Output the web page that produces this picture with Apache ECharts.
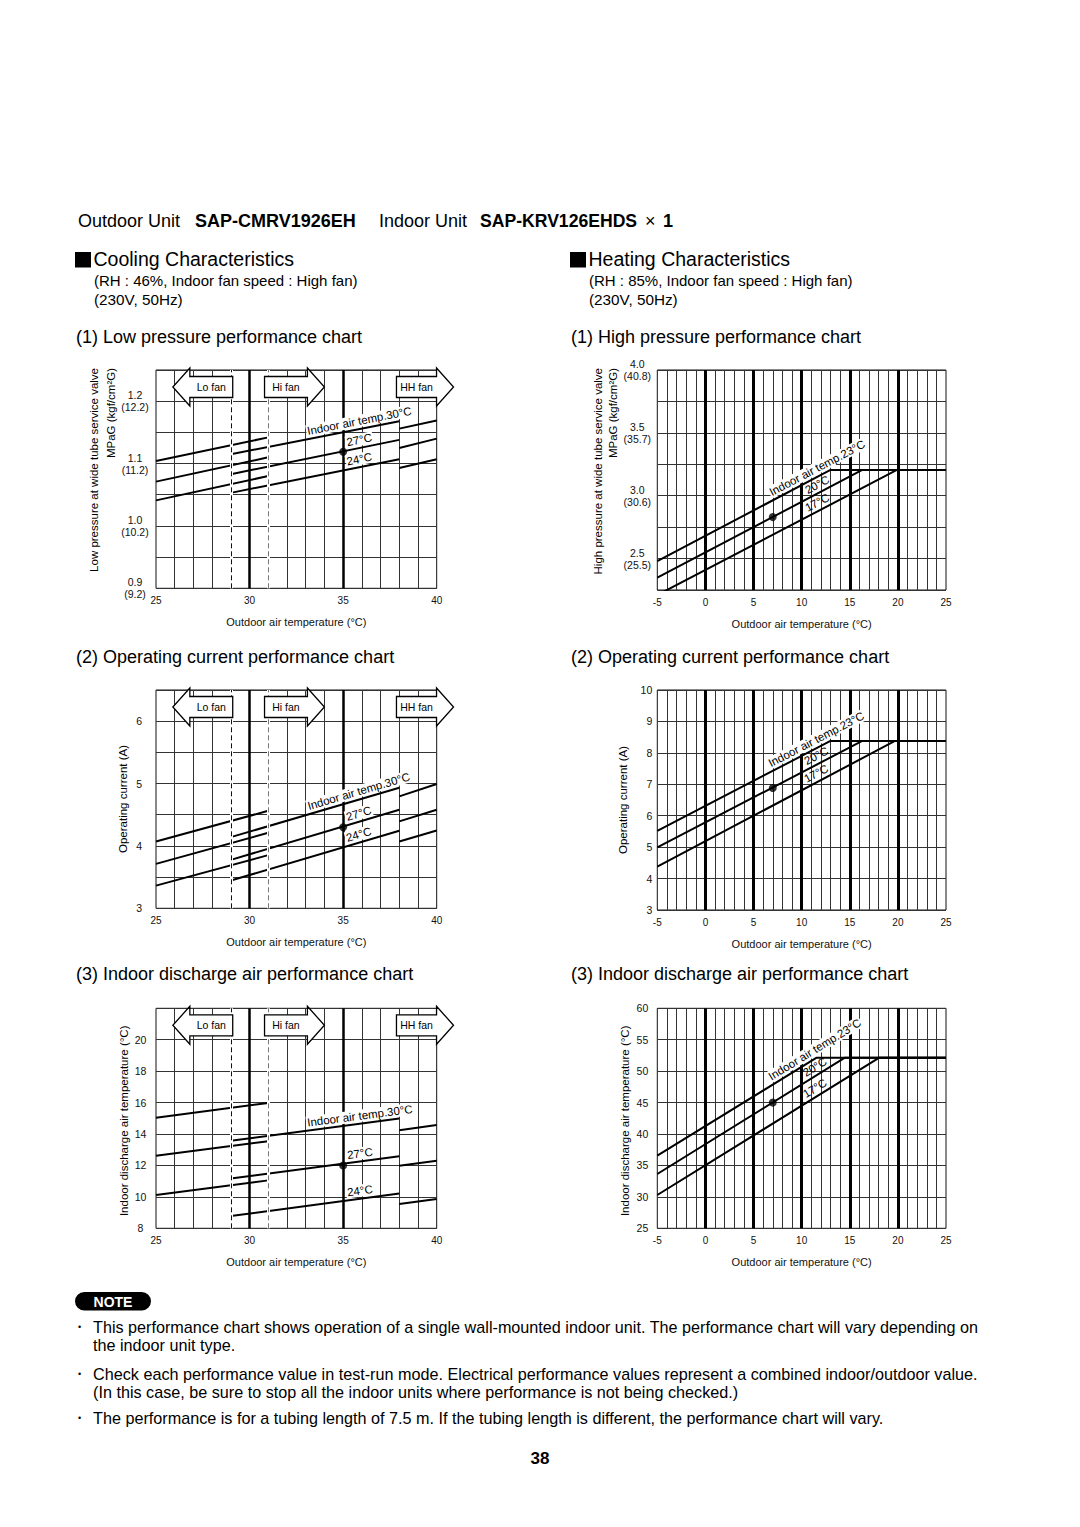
<!DOCTYPE html>
<html><head><meta charset="utf-8">
<script src="https://cdn.jsdelivr.net/npm/echarts@6/dist/echarts.min.js"></script>
<style>html,body{margin:0;padding:0;background:#fff}#c{width:1080px;height:1527px}</style>
</head><body><div id="c"></div>
<script>
// ================= DATA =================
// Cooling: each temperature has 3 segments (Lo fan, Hi fan, HH fan): start/end values
const coolSegX = [[25, 31], [29, 38], [38, 40]];
const coolTempNames = ['Indoor air temp.30°C', '27°C', '24°C'];
const lowP30 = [1.104, 1.142, 1.115, 1.168, 1.156, 1.169];
const lowP27 = [1.071, 1.110, 1.083, 1.138, 1.125, 1.140];
const lowP24 = [1.041, 1.080, 1.053, 1.107, 1.093, 1.107];
const lowPPoint = [35, 1.119];
const curC30 = [4.071, 4.564, 4.141, 4.934, 4.794, 4.993];
const curC27 = [3.712, 4.211, 3.777, 4.580, 4.393, 4.580];
const curC24 = [3.364, 3.852, 3.445, 4.243, 4.071, 4.248];
const curCPoint = [35, 4.30];
const disC30 = [15.03, 15.98, 13.57, 14.98, 14.24, 14.58];
const disC27 = [12.61, 13.54, 11.17, 12.59, 11.98, 12.30];
const disC24 = [10.12, 11.05, 8.78, 10.22, 9.54, 9.86];
const disCPoint = [35, 12.0];

// Heating: rising line then flat to 25 °C
const heatTempNames = ['Indoor air temp.23°C', '20°C', '17°C'];
const highP23 = [[-5, 2.480], [13.0, 3.205], [25, 3.205]];
const highP20 = [[-5, 2.348], [16.3, 3.205], [25, 3.205]];
const highP17 = [[-5, 2.210], [19.9, 3.205], [25, 3.205]];
const highPPoint = [7, 2.83];
const curH23 = [[-5, 5.52], [13.0, 8.38], [25, 8.38]];
const curH20 = [[-5, 4.99], [16.3, 8.38], [25, 8.38]];
const curH17 = [[-5, 4.38], [19.7, 8.38], [25, 8.38]];
const curHPoint = [7, 6.88];
const disH23 = [[-5, 36.56], [11.56, 52.15], [25, 52.15]];
const disH20 = [[-5, 33.64], [14.5, 52.15], [25, 52.15]];
const disH17 = [[-5, 30.30], [18.07, 52.15], [25, 52.15]];
const disHPoint = [7, 45];

// Fan zones (cooling)
const fanNames = ['Lo fan', 'Hi fan', 'HH fan'];
const fanTailX = [29.1, 30.8, 37.85];
const fanTipX = [25.9, 34.0, 40.9];
const fanBoundX = [29, 31];

// Tick labels
const lowPTickVals = [0.9, 1.0, 1.1, 1.2];
const lowPTickText = ['0.9\n(9.2)', '1.0\n(10.2)', '1.1\n(11.2)', '1.2\n(12.2)'];
const highPTickVals = [2.5, 3.0, 3.5, 4.0];
const highPTickText = ['2.5\n(25.5)', '3.0\n(30.6)', '3.5\n(35.7)', '4.0\n(40.8)'];
const curCTickVals = [3, 4, 5, 6];
const disCTickVals = [8, 10, 12, 14, 16, 18, 20];

// ================= BUILD =================
const FONT = '"Liberation Sans", Arial, Helvetica, "DejaVu Sans", sans-serif';
const chart = echarts.init(document.getElementById('c'), null, {renderer: 'svg', width: 1080, height: 1527});

const gridBoxes = [
  {left: 156, top: 370, width: 280.7, height: 218.3},
  {left: 657.3, top: 370, width: 288.7, height: 220},
  {left: 156, top: 690, width: 280.7, height: 218.3},
  {left: 657.3, top: 690, width: 288.7, height: 220},
  {left: 156, top: 1008.3, width: 280.7, height: 220},
  {left: 657.3, top: 1008.3, width: 288.7, height: 220}
];
const grids = gridBoxes.map(g => Object.assign({show: true, borderColor: '#111', borderWidth: 1, backgroundColor: 'transparent', containLabel: false}, g));

function pickLabel(vals, texts) {
  return function (v) {
    for (let i = 0; i < vals.length; i++) if (Math.abs(v - vals[i]) < 1e-6) return texts ? texts[i] : String(vals[i]);
    return '';
  };
}

function xAxisDef(gi, cooling) {
  return {
    gridIndex: gi, type: 'value',
    min: cooling ? 25 : -5, max: cooling ? 40 : 25, interval: 5,
    axisLine: {show: false}, axisTick: {show: false},
    axisLabel: {fontSize: 10, color: '#111', margin: 7, fontFamily: FONT},
    splitLine: {show: true, showMinLine: false, showMaxLine: false, lineStyle: {color: '#000', width: cooling ? 2.5 : 3}},
    minorTick: {show: false, splitNumber: 5},
    minorSplitLine: {show: true, lineStyle: {color: '#333', width: 1}},
    name: 'Outdoor air temperature (°C)', nameLocation: 'middle', nameGap: 28,
    nameTextStyle: {fontSize: 11, color: '#111', fontFamily: FONT}
  };
}
function yAxisDef(gi, min, max, interval, formatter, align, margin, lh) {
  return {
    gridIndex: gi, type: 'value', min, max, interval,
    axisLine: {show: false}, axisTick: {show: false},
    axisLabel: {fontSize: 10.5, color: '#111', fontFamily: FONT, formatter, align, margin, lineHeight: lh || 12, showMinLabel: true, showMaxLabel: true},
    splitLine: {show: true, lineStyle: {color: '#333', width: 1}}
  };
}

const xAxes = [xAxisDef(0, true), xAxisDef(1, false), xAxisDef(2, true), xAxisDef(3, false), xAxisDef(4, true), xAxisDef(5, false)];
const yAxes = [
  yAxisDef(0, 0.9, 1.25, 0.05, pickLabel(lowPTickVals, lowPTickText), 'center', 21),
  yAxisDef(1, 2.25, 4.0, 0.25, pickLabel(highPTickVals, highPTickText), 'center', 20),
  yAxisDef(2, 3, 6.5, 0.5, pickLabel(curCTickVals), 'right', 14),
  yAxisDef(3, 3, 10, 1, v => String(v), 'right', 5),
  yAxisDef(4, 8, 22, 2, pickLabel(disCTickVals), 'center', 15.5),
  yAxisDef(5, 25, 60, 5, v => String(v), 'right', 9)
];

const series = [];
function lineSeries(gi, data) {
  return {type: 'line', xAxisIndex: gi, yAxisIndex: gi, data, symbol: 'none', silent: true, clip: true,
    lineStyle: {color: '#000', width: 2}, z: 4, animation: false};
}
function pointSeries(gi, pt) {
  return {type: 'scatter', xAxisIndex: gi, yAxisIndex: gi, data: [pt], symbol: 'circle', symbolSize: 8,
    itemStyle: {color: '#000'}, silent: true, z: 7, animation: false};
}
function interpAt(p0, p1, x) {
  return p0[1] + (p1[1] - p0[1]) * (x - p0[0]) / (p1[0] - p0[0]);
}
function labelSeries(gi, items) {
  return {
    type: 'custom', xAxisIndex: gi, yAxisIndex: gi, clip: false, silent: true, z: 5, animation: false,
    data: items.map(it => [it.x, interpAt(it.p0, it.p1, it.x)]),
    renderItem: (params, api) => {
      const it = items[params.dataIndex];
      const a = api.coord(it.p0), b = api.coord(it.p1);
      const ang = -Math.atan2(b[1] - a[1], b[0] - a[0]);
      const p = api.coord([api.value(0), api.value(1)]);
      const st = {text: it.text, x: 0, y: -2, align: 'center', verticalAlign: 'bottom',
        fontSize: 11.5, fontFamily: FONT, fill: '#000'};
      if (it.bg) { st.backgroundColor = '#fff'; st.padding = [0, 1]; }
      return {type: 'text', x: p[0], y: p[1], rotation: ang, style: st};
    }
  };
}
function fanSeries(gi, ymin) {
  return {
    type: 'custom', xAxisIndex: gi, yAxisIndex: gi, clip: false, silent: true, z: 6, animation: false,
    data: fanNames.map((n, i) => [fanTailX[i], fanTipX[i]]),
    renderItem: (params, api) => {
      const tail = api.coord([api.value(0), ymin])[0];
      const tip = api.coord([api.value(1), ymin])[0];
      const cy = params.coordSys.y + 17;
      const dir = tip > tail ? 1 : -1;
      const base = tip - dir * 17;
      const bh = 10.5, hh = 19;
      const pts = [[tail, cy - bh], [base, cy - bh], [base, cy - hh], [tip, cy], [base, cy + hh], [base, cy + bh], [tail, cy + bh]];
      return {type: 'group', children: [
        {type: 'polygon', shape: {points: pts}, style: {fill: '#fff', stroke: '#000', lineWidth: 1.3}},
        {type: 'text', x: (tail + base) / 2, y: cy, style: {text: fanNames[params.dataIndex], fontSize: 10.5, fontFamily: FONT, fill: '#000', align: 'center', verticalAlign: 'middle'}}
      ]};
    }
  };
}
function boundSeries(gi) {
  const d = [];
  fanBoundX.forEach(x => d.push({xAxis: x, lineStyle: {color: '#fff', width: 3, type: 'solid'}}));
  fanBoundX.forEach((x, i) => d.push({xAxis: x, lineStyle: {color: i === 0 ? '#111' : '#777', width: 1, type: [5, 3]}}));
  return {type: 'line', xAxisIndex: gi, yAxisIndex: gi, data: [], z: 3, silent: true, animation: false,
    markLine: {silent: true, symbol: 'none', label: {show: false}, animation: false, data: d}};
}

function addCooling(gi, arrs, pt, ymin) {
  series.push(boundSeries(gi));
  const hiSegs = [];
  arrs.forEach(arr => {
    coolSegX.forEach((sx, k) => {
      const seg = [[sx[0], arr[2 * k]], [sx[1], arr[2 * k + 1]]];
      series.push(lineSeries(gi, seg));
      if (k === 1) hiSegs.push(seg);
    });
  });
  series.push(labelSeries(gi, hiSegs.map((s, i) => ({p0: s[0], p1: s[1], x: 35.95, text: coolTempNames[i], bg: true}))));
  series.push(pointSeries(gi, pt));
  series.push(fanSeries(gi, ymin));
}
function addHeating(gi, lines, pt, lx) {
  lines.forEach(l => series.push(lineSeries(gi, l)));
  series.push(labelSeries(gi, lines.map((l, i) => ({p0: l[0], p1: l[1], x: lx, text: heatTempNames[i], bg: i === 0}))));
  series.push(pointSeries(gi, pt));
}

addCooling(0, [lowP30, lowP27, lowP24], lowPPoint, 0.9);
addHeating(1, [highP23, highP20, highP17], highPPoint, 12.0);
addCooling(2, [curC30, curC27, curC24], curCPoint, 3);
addHeating(3, [curH23, curH20, curH17], curHPoint, 11.9);
addCooling(4, [disC30, disC27, disC24], disCPoint, 8);
addHeating(5, [disH23, disH20, disH17], disHPoint, 11.8);

// ---------- page texts ----------
function T(text, x, y, o) {
  o = o || {};
  return {type: 'text', x, y, rotation: o.rot || 0, silent: true, z: 10,
    style: {text, fontSize: o.size || 16, fontWeight: o.bold ? 'bold' : 'normal', fontFamily: FONT,
      fill: o.color || '#000', align: o.align || 'left', verticalAlign: o.va || 'middle'}};
}
function SQ(x, y) {
  return {type: 'rect', x, y, shape: {width: 16, height: 15.5}, style: {fill: '#000'}, silent: true, z: 10};
}
const R90 = Math.PI / 2;
const NOTE_SIZE = 16.2;
const graphics = [
  T('Outdoor Unit', 78, 221, {size: 18}),
  T('SAP-CMRV1926EH', 195, 221, {size: 18, bold: true}),
  T('Indoor Unit', 379, 221, {size: 18}),
  T('SAP-KRV126EHDS', 480, 221, {size: 17.6, bold: true}),
  T('×', 645, 221, {size: 18}),
  T('1', 663, 221, {size: 18, bold: true}),

  SQ(75, 252),
  T('Cooling Characteristics', 93.5, 259, {size: 19.5}),
  T('(RH : 46%, Indoor fan speed : High fan)', 94, 280.5, {size: 15}),
  T('(230V, 50Hz)', 94, 299, {size: 15.3}),
  SQ(570, 252),
  T('Heating Characteristics', 588.5, 259, {size: 19.5}),
  T('(RH : 85%, Indoor fan speed : High fan)', 589, 280.5, {size: 15}),
  T('(230V, 50Hz)', 589, 299, {size: 15.3}),

  T('(1) Low pressure performance chart', 76, 337, {size: 18}),
  T('(1) High pressure performance chart', 571, 337, {size: 18}),
  T('(2) Operating current performance chart', 76, 657, {size: 18}),
  T('(2) Operating current performance chart', 571, 657, {size: 18}),
  T('(3) Indoor discharge air performance chart', 76, 974, {size: 18}),
  T('(3) Indoor discharge air performance chart', 571, 974, {size: 18}),

  T('Low pressure at wide tube service valve', 94.3, 368, {size: 11.5, rot: R90, align: 'right'}),
  T('MPaG (kgf/cm²G)', 110.8, 368, {size: 11.5, rot: R90, align: 'right'}),
  T('High pressure at wide tube service valve', 597.5, 368, {size: 11.5, rot: R90, align: 'right'}),
  T('MPaG (kgf/cm²G)', 613.3, 368, {size: 11.5, rot: R90, align: 'right'}),
  T('Operating current (A)', 122.5, 799, {size: 11.5, rot: R90, align: 'center'}),
  T('Operating current (A)', 622.5, 800, {size: 11.5, rot: R90, align: 'center'}),
  T('Indoor discharge air temperature (°C)', 123.8, 1120.8, {size: 11.5, rot: R90, align: 'center'}),
  T('Indoor discharge air temperature (°C)', 624.5, 1120.8, {size: 11.5, rot: R90, align: 'center'}),

  {type: 'rect', x: 75, y: 1292, shape: {width: 76, height: 18.5, r: 9.25}, style: {fill: '#000'}, silent: true, z: 10},
  T('NOTE', 113, 1301.5, {size: 14, bold: true, color: '#fff', align: 'center'}),
  T('•', 78, 1327, {size: 9}),
  T('This performance chart shows operation of a single wall-mounted indoor unit. The performance chart will vary depending on', 93, 1327, {size: NOTE_SIZE}),
  T('the indoor unit type.', 93, 1345, {size: NOTE_SIZE}),
  T('•', 78, 1374, {size: 9}),
  T('Check each performance value in test-run mode. Electrical performance values represent a combined indoor/outdoor value.', 93, 1374, {size: NOTE_SIZE}),
  T('(In this case, be sure to stop all the indoor units where performance is not being checked.)', 93, 1392, {size: NOTE_SIZE}),
  T('•', 78, 1418, {size: 9}),
  T('The performance is for a tubing length of 7.5 m. If the tubing length is different, the performance chart will vary.', 93, 1418, {size: NOTE_SIZE}),
  T('38', 540, 1458, {size: 17, bold: true, align: 'center'})
];

chart.setOption({
  animation: false,
  backgroundColor: '#fff',
  grid: grids,
  xAxis: xAxes,
  yAxis: yAxes,
  series,
  graphic: graphics
});
</script>
</body></html>
